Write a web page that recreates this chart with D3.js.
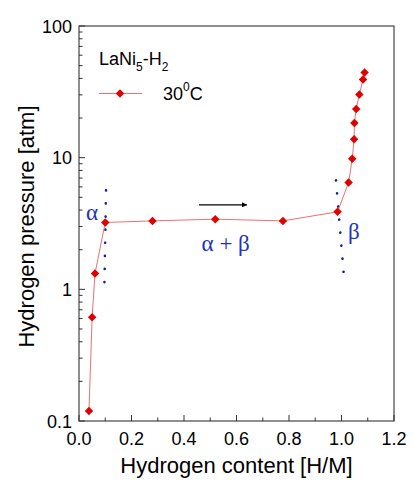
<!DOCTYPE html>
<html>
<head>
<meta charset="utf-8">
<script src="https://cdn.jsdelivr.net/npm/d3@7"></script>
<style>
  body { margin: 0; background: #fff; }
  svg { display: block; }
  text { font-family: "Liberation Sans", Arial, sans-serif; }
</style>
</head>
<body>
<svg id="chart"></svg>
<script>
// Data
const hContent = [0.038, 0.05, 0.061, 0.10, 0.28, 0.519, 0.777, 0.985, 1.027, 1.041, 1.048, 1.049, 1.056, 1.068, 1.082, 1.088];
const pressure = [0.119, 0.614, 1.32, 3.22, 3.31, 3.41, 3.31, 3.88, 6.47, 9.8, 13.8, 18.3, 23.4, 30.2, 39.2, 44.3];

// phase boundaries (dotted)
const alphaEdgeX = [0.103, 0.097];
const alphaEdgeY = [5.65, 1.13];
const betaEdgeX = [0.979, 1.008];
const betaEdgeY = [6.73, 1.34];

const xTicks = [0.0, 0.2, 0.4, 0.6, 0.8, 1.0, 1.2];
const yTicks = [0.1, 1, 10, 100];
const seriesLabel = "30";

const W = 413, H = 490;
const margin = {top: 26, right: 19, bottom: 69, left: 79};

const svg = d3.select("#chart").attr("width", W).attr("height", H);

const x = d3.scaleLinear().domain([0, 1.2]).range([margin.left, W - margin.right]);
const y = d3.scaleLog().domain([0.1, 100]).range([H - margin.bottom, margin.top]);

const x0 = margin.left, x1 = W - margin.right;
const y0 = H - margin.bottom, y1 = margin.top;

// frame
svg.append("rect")
  .attr("x", x0).attr("y", y1)
  .attr("width", x1 - x0).attr("height", y0 - y1)
  .attr("fill", "none").attr("stroke", "#444").attr("stroke-width", 1.2);

// x ticks (inward)
const xMinor = d3.range(0.1, 1.2, 0.2);
svg.append("g").selectAll("line").data(xTicks).enter().append("line")
  .attr("x1", d => x(d)).attr("x2", d => x(d))
  .attr("y1", y0).attr("y2", y0 - 6)
  .attr("stroke", "#333");
svg.append("g").selectAll("line").data(xMinor).enter().append("line")
  .attr("x1", d => x(d)).attr("x2", d => x(d))
  .attr("y1", y0).attr("y2", y0 - 3.5)
  .attr("stroke", "#333");
svg.append("g").selectAll("text").data(xTicks).enter().append("text")
  .attr("x", d => x(d)).attr("y", y0 + 24)
  .attr("text-anchor", "middle")
  .attr("font-size", 18)
  .text(d => d.toFixed(1));

// y ticks (inward)
const yMinor = [];
[0.1, 1, 10].forEach(dec => { for (let k = 2; k <= 9; k++) yMinor.push(dec * k); });
svg.append("g").selectAll("line").data(yTicks).enter().append("line")
  .attr("x1", x0).attr("x2", x0 + 6)
  .attr("y1", d => y(d)).attr("y2", d => y(d))
  .attr("stroke", "#333");
svg.append("g").selectAll("line").data(yMinor).enter().append("line")
  .attr("x1", x0).attr("x2", x0 + 3.5)
  .attr("y1", d => y(d)).attr("y2", d => y(d))
  .attr("stroke", "#333");
svg.append("g").selectAll("text").data(yTicks).enter().append("text")
  .attr("x", x0 - 7).attr("y", d => y(d) + 6.5)
  .attr("text-anchor", "end")
  .attr("font-size", 18)
  .text(d => d);

// axis titles
svg.append("text")
  .attr("x", (x0 + x1) / 2).attr("y", 473)
  .attr("text-anchor", "middle").attr("font-size", 22)
  .text("Hydrogen content [H/M]");
svg.append("text")
  .attr("transform", `translate(34,${(y0 + y1) / 2 + 3}) rotate(-90)`)
  .attr("text-anchor", "middle").attr("font-size", 22)
  .text("Hydrogen pressure [atm]");

// dotted phase boundaries
const dotLine = d3.line().x(d => x(d[0])).y(d => y(d[1]));
[[alphaEdgeX, alphaEdgeY], [betaEdgeX, betaEdgeY]].forEach(([xs, ys]) => {
  svg.append("path")
    .attr("d", dotLine(xs.map((v, i) => [v, ys[i]])))
    .attr("fill", "none")
    .attr("stroke", "#1c1c90")
    .attr("stroke-width", 2.6)
    .attr("stroke-linecap", "round")
    .attr("stroke-dasharray", "0.1 13");
});

// isotherm line
const data = hContent.map((v, i) => ({h: v, p: pressure[i]}));
svg.append("path")
  .attr("d", d3.line().x(d => x(d.h)).y(d => y(d.p))(data))
  .attr("fill", "none")
  .attr("stroke", "#ee7070")
  .attr("stroke-width", 1);

const diamond = d3.symbol().type(d3.symbolSquare).size(36);
svg.append("g").selectAll("path").data(data).enter().append("path")
  .attr("d", diamond)
  .attr("transform", d => `translate(${x(d.h)},${y(d.p)}) rotate(45)`)
  .attr("fill", "#e00000");

// arrow
svg.append("defs").append("marker")
  .attr("id", "arrowhead")
  .attr("viewBox", "0 0 10 10")
  .attr("refX", 10).attr("refY", 5)
  .attr("markerWidth", 9).attr("markerHeight", 5)
  .attr("markerUnits", "userSpaceOnUse")
  .attr("orient", "auto")
  .append("path").attr("d", "M0,0L10,5L0,10Z").attr("fill", "#000");
svg.append("line")
  .attr("x1", x(0.457)).attr("x2", x(0.64))
  .attr("y1", y(4.38)).attr("y2", y(4.38))
  .attr("stroke", "#000").attr("stroke-width", 1.2)
  .attr("marker-end", "url(#arrowhead)");

// phase labels (serif greek, as in the original)
function phaseLabel(txt, hx, py) {
  svg.append("text")
    .attr("x", x(hx)).attr("y", y(py))
    .style("font-family", "'Liberation Serif', 'DejaVu Serif', serif")
    .style("font-size", "23px")
    .style("fill", "#2233bb")
    .text(txt);
}
phaseLabel("\u03b1", 0.027, 3.39);
phaseLabel("\u03b1 + \u03b2", 0.467, 1.97);
phaseLabel("\u03b2", 1.025, 2.43);

// legend
const leg = svg.append("g");
const t1 = leg.append("text").attr("x", 99).attr("y", 65).attr("font-size", 18);
t1.append("tspan").text("LaNi");
t1.append("tspan").attr("font-size", 12).attr("dy", 6).text("5");
t1.append("tspan").attr("dy", -6).text("-H");
t1.append("tspan").attr("font-size", 12).attr("dy", 6).text("2");

leg.append("line")
  .attr("x1", 99).attr("x2", 142).attr("y1", 93.5).attr("y2", 93.5)
  .attr("stroke", "#ee7070").attr("stroke-width", 1);
leg.append("path")
  .attr("d", diamond)
  .attr("transform", "translate(120,93.5) rotate(45)")
  .attr("fill", "#e00000");
const t2 = leg.append("text").attr("x", 163).attr("y", 100).attr("font-size", 18);
t2.append("tspan").text(seriesLabel);
t2.append("tspan").attr("font-size", 12).attr("dy", -9).text("0");
t2.append("tspan").attr("dy", 9).text("C");
</script>
</body>
</html>
